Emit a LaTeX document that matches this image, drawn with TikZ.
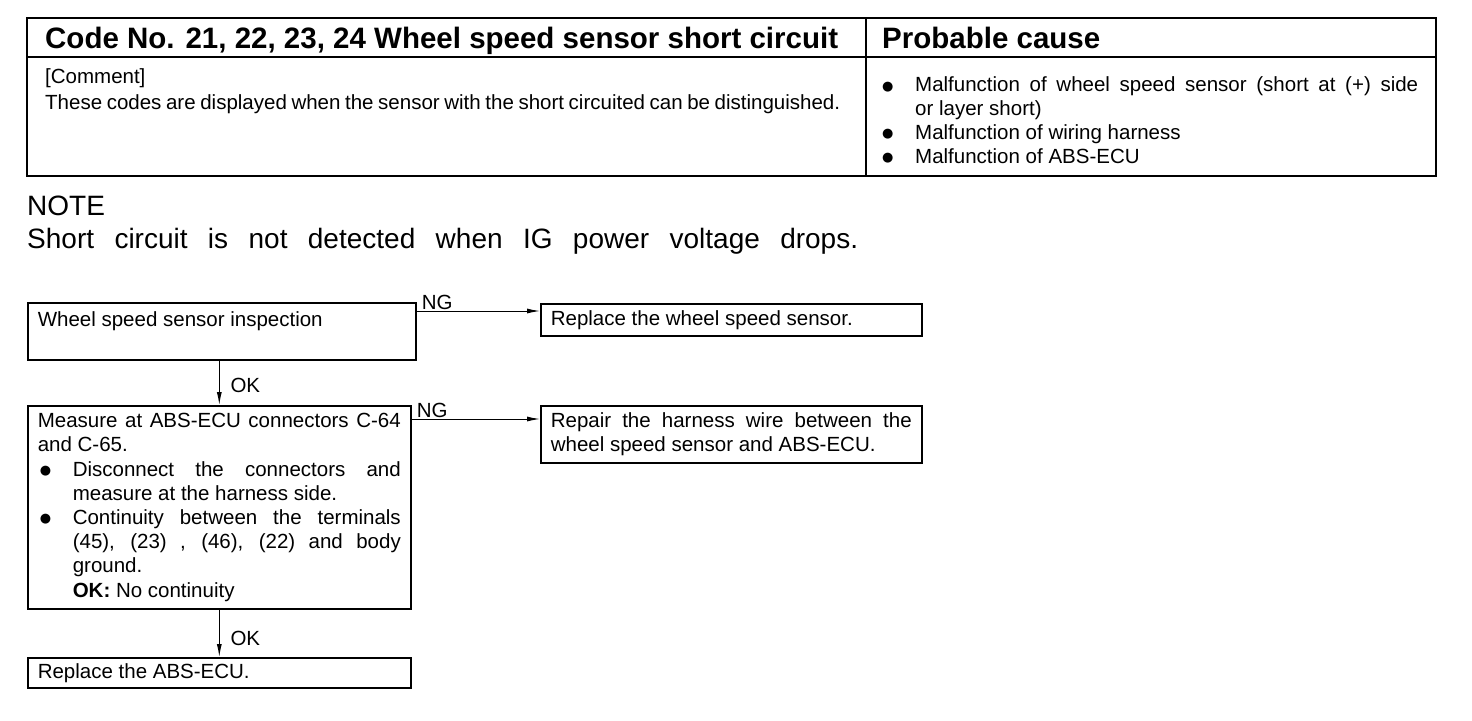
\documentclass[tikz,border=0pt]{standalone}
\usepackage{fontspec}
\setmainfont{Liberation Sans}
\newfontfamily\symfont{DejaVu Sans}
\usetikzlibrary{arrows.meta,positioning,calc}
\setlength\parindent{0pt}
\newcommand\hdfont{\fontsize{29.5}{34}\selectfont\bfseries}
\newcommand\txtfont{\fontsize{20.5}{23.7}\selectfont}
\newcommand\flowfont{\fontsize{20.5}{24.2}\selectfont}
\newcommand\notefont{\fontsize{28}{33}\selectfont}
\newcommand\dotmark{{\symfont\fontsize{13}{0}\selectfont\raisebox{1.5pt}{●}}}
\newcommand\bitem{\par\hangindent=35pt\hangafter=1\noindent\hbox to 35pt{\hskip2pt\dotmark\hfil}}
\tikzset{>={Latex[length=13pt,width=5pt]},every node/.style={inner sep=0pt},
 flowbox/.style={draw,line width=1.6pt,anchor=north west,inner xsep=10pt,inner ysep=0pt,
 align=justify,font=\flowfont},
 flow/.style={->,line width=1pt},
 tag/.style={font=\flowfont,inner sep=1pt}}
\begin{document}
\begin{tikzpicture}[x=1pt,y=-1pt]
\useasboundingbox (0,0) rectangle (1472,720);
% table
\draw[line width=2.2pt] (27,18) rectangle (1436,176);
\draw[line width=1.5pt] (27,57)--(1436,57) (866,18)--(866,176);
\node[anchor=base west,font=\hdfont] (code) at (45,48.6) {Code No. 21, 22, 23, 24 Wheel speed sensor short circuit};
\node[anchor=base west,font=\hdfont] (cause) at (882,48.6) {Probable cause};
\node[anchor=north west,align=left,font=\txtfont] (comment) at (45,68)
 {[Comment]\\[3pt]\hbox to 795pt{\spaceskip=2pt plus 30pt minus 1pt These codes are displayed when the sensor with the short circuited can be distinguished.}};
\node[anchor=north west,text width=538pt,align=justify,font=\txtfont] (causes) at (880,68)
 {\bitem Malfunction of wheel speed sensor (short at (+) side\linebreak or layer short)%
 \bitem Malfunction of wiring harness\bitem Malfunction of ABS-ECU};
% note
\node[anchor=base west,font=\notefont] (note) at (27,215) {NOTE};
\node[anchor=base west,font=\notefont] (drop) at (27,248)
 {\hbox to 831pt{\spaceskip=6pt plus 30pt Short circuit is not detected when IG power voltage drops.}};
% flow chart
\node[flowbox,minimum width=388pt,minimum height=57pt,text width=368pt] (insp) at (27,302)
 {Wheel speed sensor inspection\\\mbox{}};
\node[flowbox,minimum width=381pt,minimum height=32pt,text width=361pt] (repl) at (540,303)
 {Replace the wheel speed sensor.};
\node[flowbox,minimum width=383pt,minimum height=203pt,text width=363pt] (meas) at (27,405)
 {Measure at ABS-ECU connectors C-64\linebreak and C-65.%
 \bitem Disconnect the connectors and\linebreak measure at the harness side.%
 \bitem Continuity between the terminals\linebreak (45), (23) , (46), (22) and body\linebreak ground.%
 \par\noindent\hskip35pt\textbf{OK:} No continuity};
\node[flowbox,minimum width=381pt,minimum height=57pt,text width=361pt] (harn) at (540,405)
 {Repair the harness wire between the\linebreak wheel speed sensor and ABS-ECU.};
\node[flowbox,minimum width=383pt,minimum height=30pt,text width=363pt] (ecu) at (27,657)
 {Replace the ABS-ECU.};
% connectors
\coordinate (ngA) at ($(insp.north east)+(0,9)$);
\coordinate (ngB) at ($(meas.north east)+(0,14)$);
\draw[flow] (ngA) -- (ngA -| repl.west);
\draw[flow] (ngB) -- (ngB -| harn.west);
\node[tag,anchor=south west] (ngAlab) at ($(ngA)+(4,0)$) {NG};
\node[tag,anchor=south west] (ngBlab) at ($(ngB)+(4,0)$) {NG};
\draw[flow] (insp.south -| meas.north) -- (meas.north);
\draw[flow] (meas.south) -- (ecu.north);
\node[tag,anchor=west] (okA) at ($(insp.south -| meas.north)!0.55!(meas.north)+(10,0)$) {OK};
\node[tag,anchor=west] (okB) at ($(meas.south)!0.6!(ecu.north)+(10,0)$) {OK};
\end{tikzpicture}
\end{document}
